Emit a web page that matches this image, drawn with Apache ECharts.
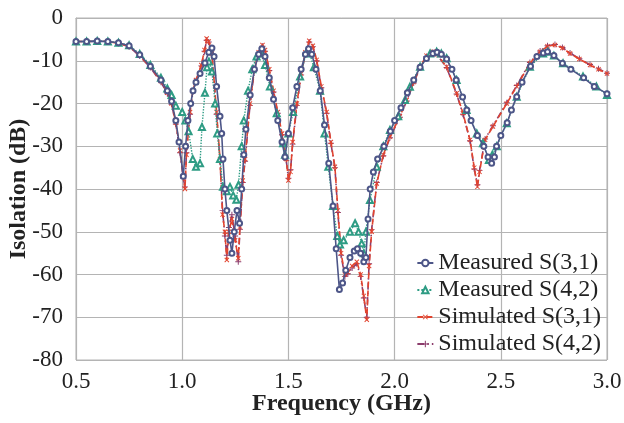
<!DOCTYPE html>
<html><head><meta charset="utf-8">
<script src="https://cdn.jsdelivr.net/npm/echarts@6/dist/echarts.min.js"></script>
<style>html,body{margin:0;padding:0;background:#fff}#c{width:624px;height:423px}</style>
</head><body><div id="c"></div>
<script>
// Measured S(3,1)
const m31F = [0.50,0.55,0.60,0.65,0.70,0.75,0.80,0.85,0.90,0.93,0.95,0.97,0.985,1.005,1.016,1.027,1.04,1.051,1.065,1.084,1.107,1.125,1.14,1.15,1.162,1.178,1.186,1.192,1.201,1.21,1.225,1.234,1.245,1.258,1.27,1.28,1.29,1.30,1.32,1.34,1.36,1.375,1.39,1.41,1.43,1.45,1.47,1.484,1.50,1.52,1.54,1.56,1.58,1.595,1.61,1.63,1.65,1.67,1.69,1.71,1.725,1.74,1.755,1.77,1.79,1.81,1.825,1.84,1.855,1.865,1.875,1.885,1.90,1.92,1.95,1.98,2.00,2.03,2.06,2.09,2.12,2.15,2.18,2.20,2.22,2.245,2.27,2.29,2.32,2.34,2.36,2.39,2.42,2.44,2.457,2.47,2.48,2.50,2.53,2.55,2.575,2.60,2.64,2.67,2.70,2.72,2.75,2.79,2.83,2.89,2.94,3.00];
const m31V = [-5.5,-5.5,-5.4,-5.5,-5.8,-6.5,-8.6,-11.3,-14.5,-17,-19.5,-24,-29,-37,-30,-24,-20,-17,-15,-13,-10.5,-8,-7,-9,-16,-23,-27,-33,-40,-45,-52,-55,-50,-45,-48,-40,-32,-26,-18,-12,-8.5,-7.2,-9,-14,-19,-24,-29,-32.5,-27,-21,-16,-12,-8.5,-7.2,-8.5,-12,-17,-25,-34,-44,-54,-63.5,-62,-59,-56,-54.5,-54,-55,-57,-56,-47,-40,-36,-33,-30,-26.5,-24,-21,-17.5,-14.5,-11.5,-9.5,-8.3,-8,-8.5,-9.6,-12,-14.5,-18.5,-21.5,-24,-27.5,-30,-32.5,-34,-32.5,-30,-27.5,-24.5,-21.5,-18.4,-15,-11.3,-9,-8.2,-7.9,-8.8,-10.6,-12,-14,-16,-17.7];
// Measured S(4,2)
const m42F = [0.50,0.55,0.60,0.65,0.70,0.75,0.80,0.85,0.90,0.93,0.95,0.97,1.00,1.015,1.03,1.05,1.065,1.084,1.093,1.107,1.117,1.126,1.14,1.155,1.165,1.178,1.192,1.21,1.225,1.24,1.255,1.265,1.28,1.29,1.31,1.33,1.35,1.37,1.39,1.413,1.445,1.475,1.484,1.50,1.522,1.555,1.585,1.60,1.62,1.649,1.67,1.688,1.71,1.73,1.743,1.76,1.79,1.814,1.83,1.845,1.855,1.865,1.884,1.916,1.947,1.978,2.017,2.049,2.072,2.12,2.167,2.198,2.22,2.245,2.292,2.339,2.387,2.416,2.444,2.46,2.481,2.528,2.575,2.637,2.699,2.722,2.75,2.793,2.887,2.95,3.00];
const m42V = [-5.5,-5.5,-5.4,-5.5,-5.8,-6.4,-8.4,-11,-14,-16.5,-18,-20.5,-22,-24,-26.5,-33,-34.8,-34,-25.5,-17.5,-11.5,-10.2,-12.5,-20,-27,-33,-39.5,-40.5,-39.5,-41.5,-42.5,-39,-30,-24,-17,-12,-9,-8.3,-11,-16,-22.3,-29.3,-32,-27,-22,-13.7,-8,-8.3,-11.5,-17,-27,-34.8,-44,-51,-53,-52,-50,-48,-50,-52.7,-55,-50,-42.6,-34.8,-30,-26.2,-23,-19.2,-16.1,-11.4,-8.3,-7.9,-8.3,-9.4,-14.5,-21.5,-27,-29.3,-33.2,-32,-30,-24.6,-18.4,-11.4,-8.3,-7.9,-8.8,-10.6,-13.7,-16,-18];
// Simulated S(3,1)
const s31F = [0.50,0.55,0.60,0.65,0.70,0.75,0.80,0.85,0.90,0.93,0.95,0.97,0.99,1.005,1.013,1.02,1.037,1.05,1.065,1.09,1.105,1.115,1.125,1.14,1.162,1.178,1.19,1.201,1.21,1.22,1.234,1.249,1.264,1.272,1.285,1.296,1.319,1.34,1.36,1.378,1.39,1.41,1.43,1.45,1.47,1.49,1.50,1.51,1.52,1.54,1.56,1.58,1.598,1.615,1.633,1.655,1.68,1.70,1.719,1.733,1.748,1.766,1.78,1.80,1.822,1.84,1.855,1.869,1.88,1.892,1.916,1.947,1.978,2.025,2.057,2.09,2.12,2.15,2.18,2.20,2.245,2.292,2.322,2.355,2.375,2.39,2.40,2.426,2.463,2.528,2.575,2.637,2.685,2.72,2.755,2.79,2.826,2.87,2.92,2.96,3.00];
const s31V = [-5.5,-5.5,-5.4,-5.5,-5.9,-6.6,-8.8,-11.5,-14.8,-17.5,-20,-24.5,-31,-37,-40,-32,-22,-17,-14.5,-11,-7.5,-4.8,-5.5,-8.3,-22,-33,-46,-50,-56.6,-50,-47,-52,-56.2,-48.8,-38,-33,-20,-12,-8,-6.3,-7.5,-12,-17,-22,-27,-33,-38,-36,-29,-20,-13,-8,-5.3,-6.5,-9.8,-16,-22,-29,-34.8,-45,-55,-60,-59.5,-58,-57,-60,-65,-70.6,-58,-50,-38.7,-32,-27.8,-23,-19.2,-15,-11.4,-8.8,-7.9,-8.5,-11.4,-17.6,-22.3,-28.5,-35,-39.5,-36,-28.5,-25.4,-20,-16,-10.6,-7.9,-6.6,-6.3,-7,-8.3,-9.6,-11,-12,-13];
// Simulated S(4,2)
const s42F = [0.50,0.55,0.60,0.65,0.70,0.75,0.80,0.85,0.90,0.93,0.95,0.97,0.99,1.005,1.013,1.02,1.037,1.05,1.065,1.09,1.105,1.115,1.125,1.14,1.162,1.178,1.19,1.201,1.21,1.22,1.234,1.249,1.264,1.272,1.285,1.296,1.319,1.34,1.36,1.378,1.39,1.41,1.43,1.45,1.47,1.49,1.50,1.51,1.52,1.54,1.56,1.58,1.598,1.615,1.633,1.655,1.68,1.70,1.719,1.733,1.748,1.766,1.78,1.80,1.822,1.84,1.855,1.869,1.88,1.892,1.916,1.947,1.978,2.025,2.057,2.09,2.12,2.15,2.18,2.20,2.245,2.292,2.322,2.355,2.375,2.39,2.40,2.426,2.463,2.528,2.575,2.637,2.685,2.72,2.755,2.79,2.826,2.87,2.92,2.96,3.00];
const s42V = [-5.5,-5.5,-5.4,-5.5,-5.9,-6.7,-8.9,-11.6,-15,-17.7,-20.2,-24.8,-31.5,-37.5,-39.5,-31.5,-22.5,-17.3,-14.7,-11.2,-7.8,-5.2,-5.6,-8.6,-22.5,-33.5,-45,-51,-55.5,-49,-46,-51,-57,-49.5,-38.5,-33.5,-20.5,-12.3,-8.2,-6.6,-7.8,-12.3,-17.3,-22.3,-27.3,-33.3,-37.5,-35.5,-29.5,-20.5,-13.3,-8.3,-5.6,-6.7,-10,-16.3,-22.3,-29.3,-35,-45.5,-55.5,-60.5,-59.8,-58.5,-57.5,-60.5,-65.5,-70,-57.5,-49.5,-38.5,-32.2,-28,-23.2,-19.4,-15.2,-11.6,-9,-8,-8.6,-11.6,-17.8,-22.5,-28.7,-35.3,-39,-35.7,-28.3,-25.2,-19.8,-15.8,-10.4,-7.7,-6.5,-6.2,-6.9,-8.2,-9.5,-10.9,-11.9,-12.9];

const xTicks = [0.5, 1.0, 1.5, 2.0, 2.5, 3.0];
const seriesNames = ['Measured S(3,1)', 'Measured S(4,2)', 'Simulated S(3,1)', 'Simulated S(4,2)'];

const zip = (f, v) => f.map((x, i) => [x, v[i]]);
const FONT = 'Liberation Serif';
const chart = echarts.init(document.getElementById('c'), null, {renderer: 'canvas'});
const plusPath = 'path://M4.2,0h1.6v10h-1.6zM0,4.2h10v1.6h-10z';

chart.setOption({
  animation: false,
  backgroundColor: '#fff',
  grid: {left: 76, right: 17, top: 18, bottom: 63, show: true, borderColor: '#b4b4b4', borderWidth: 1,
         containLabel: false, outerBoundsMode: 'none'},
  xAxis: {
    type: 'value', min: 0.5, max: 3.0, interval: 0.5,
    name: 'Frequency (GHz)', nameLocation: 'middle', nameGap: 32, nameMoveOverlap: false,
    nameTextStyle: {fontFamily: FONT, fontSize: 24, fontWeight: 'bold', color: '#222'},
    axisLine: {show: true, lineStyle: {color: '#b4b4b4'}},
    axisTick: {show: false},
    axisLabel: {fontFamily: FONT, fontSize: 23, color: '#222', margin: 10,
      formatter: v => { const t = xTicks.find(x => Math.abs(x - v) < 1e-6); return t !== undefined ? t.toFixed(1) : ''; }},
    splitLine: {show: true, lineStyle: {color: '#b4b4b4', width: 1.2}}
  },
  yAxis: {
    type: 'value', min: -80, max: 0, interval: 10,
    name: 'Isolation (dB)', nameLocation: 'middle', nameGap: 45, nameRotate: 90, nameMoveOverlap: false,
    nameTextStyle: {fontFamily: FONT, fontSize: 24, fontWeight: 'bold', color: '#222'},
    axisLine: {show: true, lineStyle: {color: '#b4b4b4'}},
    axisTick: {show: false},
    axisLabel: {fontFamily: FONT, fontSize: 23, color: '#222', margin: 13},
    splitLine: {show: true, lineStyle: {color: '#b4b4b4', width: 1.2}}
  },
  legend: {
    orient: 'vertical', right: 18, bottom: 62, itemGap: 3, itemWidth: 16, itemHeight: 8,
    textStyle: {fontFamily: FONT, fontSize: 24, color: '#222'},
    data: seriesNames
  },
  series: [
    {name: seriesNames[0], type: 'line', data: zip(m31F, m31V), symbol: 'emptyCircle', symbolSize: 5,
     lineStyle: {color: '#4d5688', width: 1.6}, itemStyle: {color: '#4d5688', borderWidth: 1}, z: 4},
    {name: seriesNames[1], type: 'line', data: zip(m42F, m42V), symbol: 'emptyTriangle', symbolSize: 6,
     lineStyle: {color: '#2e9c84', width: 1.4, type: 'dotted'}, itemStyle: {color: '#2e9c84', borderWidth: 1}, z: 3},
    {name: seriesNames[2], type: 'line', data: zip(s31F, s31V), symbol: plusPath, symbolRotate: 45, symbolSize: 6,
     lineStyle: {color: '#e2432e', width: 1.6, type: [6, 3]}, itemStyle: {color: '#e2432e'}, z: 2},
    {name: seriesNames[3], type: 'line', data: zip(s42F, s42V), symbol: plusPath, symbolSize: 6,
     lineStyle: {color: '#8c3d6c', width: 1.6, type: [7, 3, 1.5, 3]}, itemStyle: {color: '#8c3d6c'}, z: 1}
  ]
});
</script></body></html>
